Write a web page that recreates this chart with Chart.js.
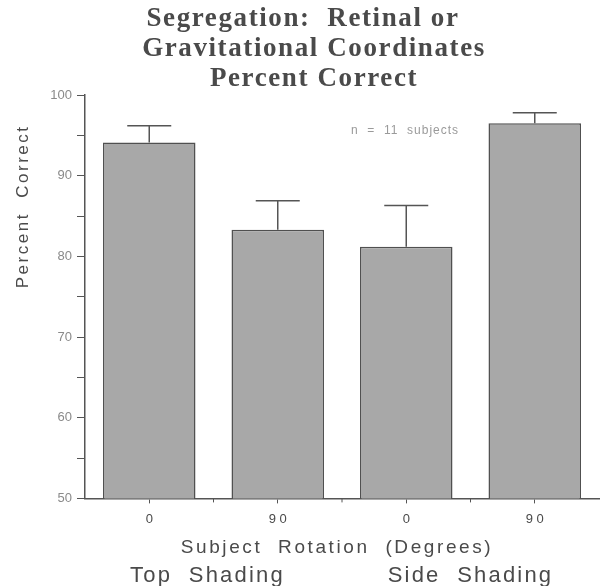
<!DOCTYPE html>
<html>
<head>
<meta charset="utf-8">
<script src="https://cdn.jsdelivr.net/npm/chart.js@4"></script>
<style>
  html, body { margin: 0; padding: 0; background: #fff; }
  #wrap { width: 603px; height: 586px; }
</style>
</head>
<body>
<div id="wrap"><canvas id="myChart" width="603" height="586"></canvas></div>
<script>
// Data

const categories = ["0", "9 0", "0", "9 0"];
const percentCorrect = [94.1, 83.3, 81.2, 96.5];
const errorTop = [96.2, 86.9, 86.3, 97.8];
const groupLabels = ["Top  Shading", "Side  Shading"];
const titleLines = ["Segregation:  Retinal or", "Gravitational Coordinates", "Percent Correct"];
const yTicks = [50, 60, 70, 80, 90, 100];

const ink = "#555";
const textInk = "#4a4a4a";

// Draws the title, error bars (upward only), in-plot note and the lower labels

const extrasPlugin = {
  id: "extras",
  afterDatasetsDraw(chart) {
    const ctx = chart.ctx;
    const x = chart.scales.x;
    const y = chart.scales.y;
    const meta = chart.getDatasetMeta(0);

    ctx.save();
    ctx.strokeStyle = ink;
    ctx.lineWidth = 1.5;
    meta.data.forEach((bar, i) => {
      const top = y.getPixelForValue(percentCorrect[i]);
      const err = y.getPixelForValue(errorTop[i]);
      ctx.beginPath();
      ctx.moveTo(bar.x, top);
      ctx.lineTo(bar.x, err);
      ctx.moveTo(bar.x - 22, err);
      ctx.lineTo(bar.x + 22, err);
      ctx.stroke();
    });

    // small tick marks at category boundaries
    ctx.lineWidth = 1;
    for (let i = 0; i < categories.length - 1; i++) {
      const bx = (x.getPixelForValue(i) + x.getPixelForValue(i + 1)) / 2;
      ctx.beginPath();
      ctx.moveTo(bx, y.bottom);
      ctx.lineTo(bx, y.bottom + 4);
      ctx.stroke();
    }
    ctx.restore();
  },
  afterDraw(chart) {
    const ctx = chart.ctx;
    const x = chart.scales.x;
    const y = chart.scales.y;

    ctx.save();
    ctx.textAlign = "center";
    ctx.textBaseline = "middle";

    // title (first line sits a bit to the left, as in the original)
    ctx.fillStyle = "#4a4a4a";
    ctx.font = "bold 27px 'Liberation Serif', 'Times New Roman', serif";
    ctx.letterSpacing = "1.6px";
    titleLines.forEach((line, i) => ctx.fillText(line, i === 0 ? 303 : 314, 19 + i * 30));

    // y axis title
    ctx.fillStyle = textInk;
    ctx.save();
    ctx.translate(23, y.getPixelForValue(86.2));
    ctx.rotate(-Math.PI / 2);
    ctx.font = "17px 'Liberation Sans', Arial, sans-serif";
    ctx.letterSpacing = "2.5px";
    ctx.fillText("Percent  Correct", 0, 0);
    ctx.restore();

    // note inside the plot
    ctx.fillStyle = "#9a9a9a";
    ctx.font = "12px 'Liberation Sans', Arial, sans-serif";
    ctx.letterSpacing = "1px";
    ctx.fillText("n  =  11  subjects", 405, y.getPixelForValue(95.6));

    // x axis title and group labels
    ctx.fillStyle = textInk;
    ctx.font = "19px 'Liberation Sans', Arial, sans-serif";
    ctx.letterSpacing = "2.6px";
    ctx.fillText("Subject  Rotation  (Degrees)", 337, 548);

    ctx.font = "22px 'Liberation Sans', Arial, sans-serif";
    ctx.letterSpacing = "2.2px";
    const g1 = (x.getPixelForValue(0) + x.getPixelForValue(1)) / 2;
    const g2 = (x.getPixelForValue(2) + x.getPixelForValue(3)) / 2;
    ctx.fillText(groupLabels[0], g1 - 6, 576);
    ctx.fillText(groupLabels[1], g2, 576);
    ctx.restore();
  }
};

new Chart("myChart", {
  type: "bar",
  data: {
    labels: categories,
    datasets: [
      {
        data: percentCorrect,
        backgroundColor: "#a8a8a8",
        borderColor: "#505050",
        borderWidth: 1.5,
        barPercentage: 0.72,
        categoryPercentage: 1.0,
      },
    ],
  },
  options: {
    responsive: false,
    animation: false,
    layout: { padding: { left: 0, right: 4, top: 95, bottom: 51 } },
    plugins: {
      legend: { display: false },
      tooltip: { enabled: false },
      title: { display: false },
    },
    scales: {
      x: {
        grid: { display: true, drawOnChartArea: false, offset: false, color: ink, tickLength: 5 },
        border: { color: ink, width: 1.5 },
        ticks: {
          color: textInk,
          padding: 8,
          font: { family: "'Liberation Sans', Arial, sans-serif", size: 13 },
        },
      },
      y: {
        min: 50,
        max: 100,
        afterFit(scale) { scale.width = 85; },
        grid: { display: true, drawOnChartArea: false, color: ink, tickLength: 8 },
        border: { color: ink, width: 1.5 },
        ticks: {
          stepSize: 5,
          color: "#8a8a8a",
          padding: 5,
          font: { family: "'Liberation Sans', Arial, sans-serif", size: 13 },
          callback: (v) => (yTicks.includes(v) ? String(v) : ""),
        },
      },
    },
  },
  plugins: [extrasPlugin],
});
</script>
</body>
</html>
